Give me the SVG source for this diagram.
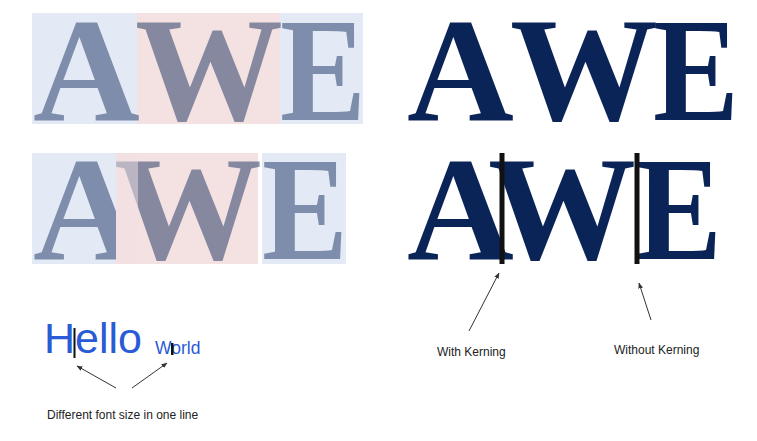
<svg xmlns="http://www.w3.org/2000/svg" width="757" height="441" viewBox="0 0 757 441">
<defs>
<style>
.big{font-family:"Liberation Serif","Times New Roman",serif;font-weight:bold;font-size:148px;fill:#0b2457}
.faded{fill-opacity:0.47}
.blue{fill:#e3eaf5}
.pink{fill:#f4e1e1}
.lbl{font-family:"Liberation Sans",Arial,sans-serif;font-size:12px;fill:#222}
.hello{font-family:"Liberation Sans",Arial,sans-serif;fill:#2a5bd6}
.cur{fill:#111}
.arr{stroke:#333;stroke-width:1;fill:none;marker-end:url(#ah)}
</style>
<marker id="ah" viewBox="0 0 10 10" refX="9" refY="5" markerWidth="6" markerHeight="6" orient="auto-start-reverse" markerUnits="userSpaceOnUse">
<path d="M0,1 L10,5 L0,9 z" fill="#333"/>
</marker>
</defs>
<g id="awe-tiles-top">
<rect class="blue" x="32" y="13" width="105" height="111"/>
<rect class="pink" x="137" y="13" width="143" height="111"/>
<rect class="blue" x="280" y="13" width="83" height="111"/>
<text class="big faded" x="33" y="120">A</text>
<text class="big faded" x="135" y="120">W</text>
<text class="big faded" transform="translate(280,120) scale(0.87,1)" x="0" y="0">E</text>
</g>
<g id="awe-tiles-bottom">
<rect class="blue" x="32" y="153" width="106" height="111"/>
<text class="big faded" x="33" y="259">A</text>
<rect class="pink" x="116" y="153" width="142" height="111"/>
<text class="big faded" x="114" y="259">W</text>
<rect x="116" y="153" width="22" height="111" fill="#efdfe5" fill-opacity="0.5"/>
<rect class="blue" x="262" y="153" width="84" height="111"/>
<text class="big faded" transform="translate(262,259) scale(0.87,1)" x="0" y="0">E</text>
</g>
<g id="awe-top-right">
<text class="big" x="407" y="120">A</text>
<text class="big" x="510" y="120">W</text>
<text class="big" transform="translate(653,120) scale(0.87,1)" x="0" y="0">E</text>
</g>
<g id="awe-bottom-right">
<text class="big" x="407" y="259">A</text>
<text class="big" x="488" y="259">W</text>
<text class="big" transform="translate(636,259) scale(0.87,1)" x="0" y="0">E</text>
<rect class="cur" x="499.5" y="153" width="5" height="111"/>
<rect class="cur" x="634.5" y="153" width="5" height="111"/>
</g>
<g id="hello-world">
<text class="hello" x="44" y="353" font-size="43">Hello</text>
<text class="hello" x="155" y="354" font-size="17.5">World</text>
<rect class="cur" x="73.5" y="328" width="2" height="30"/>
<rect class="cur" x="171" y="343" width="2.5" height="12"/>
</g>
<g id="labels">
<text class="lbl" x="47" y="419">Different font size in one line</text>
<text class="lbl" x="437" y="356">With Kerning</text>
<text class="lbl" x="614" y="354">Without Kerning</text>
</g>
<g id="connectors">
<line class="arr" x1="116" y1="388" x2="77" y2="366"/>
<line class="arr" x1="132" y1="388" x2="167" y2="363"/>
<line class="arr" x1="469" y1="331" x2="499" y2="273"/>
<line class="arr" x1="651" y1="320" x2="639" y2="283"/>
</g>
</svg>
